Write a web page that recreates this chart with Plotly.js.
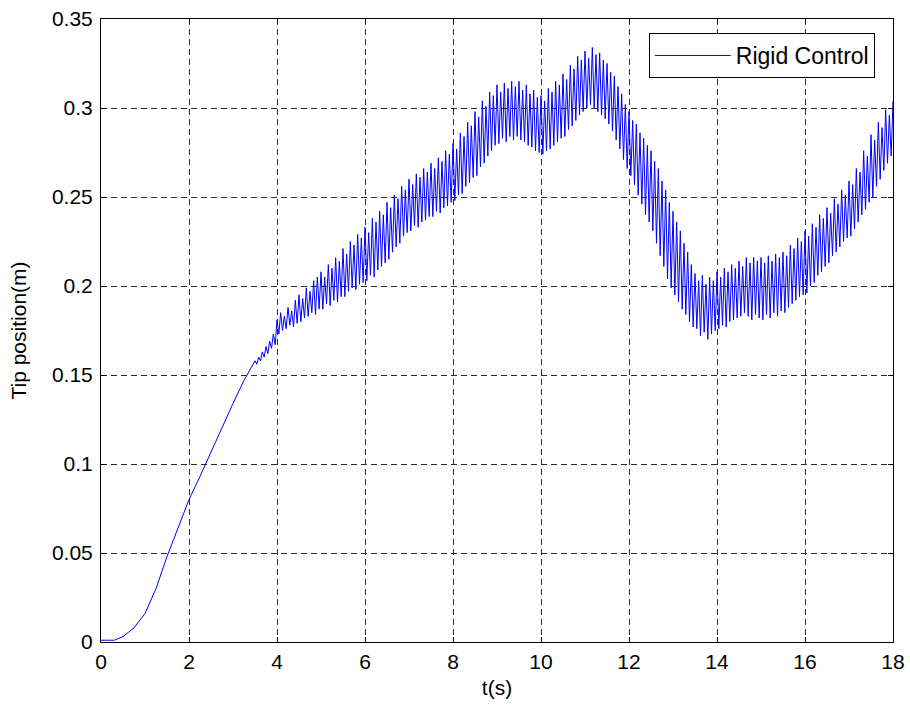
<!DOCTYPE html>
<html>
<head>
<meta charset="utf-8">
<script src="https://cdn.plot.ly/plotly-3.0.1.min.js"></script>
<style>html,body{margin:0;padding:0;background:#fff;}#chart{width:910px;height:711px;}</style>
</head>
<body>
<div id="chart"></div>
<script>
// Smooth start-up part (t in s, tip position in m)
const tSmooth = [0, 0.3, 0.5, 0.75, 1.0, 1.25, 1.5, 1.75, 2.0, 2.25, 2.5, 2.75, 3.0, 3.25];
const ySmooth = [0.001, 0.001, 0.003, 0.008, 0.016, 0.030, 0.048, 0.064, 0.080, 0.093, 0.107, 0.121, 0.134, 0.147];

// Oscillating part, sampled every 1/24 s starting at 3.5 s (peak / trough alternating)
const oscStart = 3.5;
const oscStep = 1 / 24;
const yOsc = [
  0.158,0.156,0.160,0.158,0.163,0.160,0.166,0.162,0.169,0.165,0.173,0.167, // 3.5
  0.181,0.173,0.185,0.175,0.183,0.176,0.188,0.178,0.186,0.177,0.192,0.179, // 4.0
  0.195,0.180,0.193,0.182,0.199,0.183,0.197,0.185,0.203,0.184,0.205,0.187, // 4.5
  0.208,0.187,0.205,0.190,0.212,0.189,0.210,0.192,0.216,0.191,0.214,0.194, // 5.0
  0.221,0.194,0.218,0.197,0.225,0.199,0.223,0.198,0.229,0.201,0.227,0.202, // 5.5
  0.233,0.203,0.230,0.206,0.238,0.205,0.236,0.209,0.242,0.211,0.240,0.213, // 6.0
  0.247,0.215,0.244,0.219,0.251,0.222,0.249,0.224,0.256,0.228,0.254,0.230, // 6.5
  0.260,0.231,0.257,0.234,0.263,0.233,0.261,0.236,0.266,0.237,0.264,0.239, // 7.0
  0.269,0.239,0.266,0.242,0.272,0.241,0.270,0.244,0.276,0.245,0.274,0.247, // 7.5
  0.280,0.248,0.277,0.251,0.286,0.252,0.284,0.256,0.292,0.258,0.290,0.261, // 8.0
  0.298,0.262,0.295,0.267,0.304,0.269,0.301,0.273,0.309,0.276,0.307,0.279, // 8.5
  0.313,0.280,0.309,0.283,0.314,0.281,0.311,0.284,0.315,0.282,0.312,0.284, // 9.0
  0.315,0.282,0.310,0.281,0.313,0.279,0.308,0.278,0.310,0.276,0.306,0.275, // 9.5
  0.307,0.274,0.304,0.276,0.311,0.277,0.309,0.279,0.315,0.281,0.313,0.283, // 10.0
  0.319,0.284,0.316,0.288,0.324,0.290,0.322,0.293,0.329,0.296,0.327,0.298, // 10.5
  0.332,0.300,0.328,0.302,0.334,0.300,0.330,0.298,0.331,0.296,0.327,0.294, // 11.0
  0.325,0.291,0.320,0.287,0.318,0.282,0.312,0.277,0.308,0.271,0.302,0.266, // 11.5
  0.298,0.262,0.293,0.257,0.291,0.251,0.286,0.246,0.283,0.240,0.279,0.236, // 12.0
  0.276,0.231,0.270,0.224,0.266,0.217,0.259,0.211,0.254,0.204,0.247,0.199, // 12.5
  0.242,0.195,0.236,0.191,0.231,0.187,0.224,0.184,0.219,0.180,0.212,0.177, // 13.0
  0.207,0.176,0.203,0.172,0.206,0.174,0.201,0.170,0.205,0.173,0.203,0.175, // 13.5
  0.208,0.176,0.205,0.178,0.210,0.177,0.208,0.180,0.212,0.181,0.210,0.182, // 14.0
  0.214,0.183,0.211,0.185,0.216,0.183,0.213,0.181,0.216,0.184,0.214,0.182, // 14.5
  0.216,0.181,0.213,0.184,0.217,0.182,0.214,0.185,0.218,0.183,0.216,0.186, // 15.0
  0.219,0.185,0.217,0.188,0.223,0.190,0.221,0.192,0.227,0.194,0.225,0.195, // 15.5
  0.231,0.196,0.228,0.200,0.235,0.202,0.233,0.206,0.240,0.208,0.238,0.211, // 16.0
  0.244,0.213,0.241,0.217,0.249,0.219,0.246,0.222,0.254,0.225,0.251,0.227, // 16.5
  0.259,0.228,0.257,0.232,0.266,0.236,0.264,0.240,0.276,0.243,0.273,0.247, // 17.0
  0.285,0.250,0.282,0.256,0.292,0.260,0.289,0.265,0.299,0.269,0.296,0.273, // 17.5
  0.304                                                                    // 18.0
];

const seriesName = 'Rigid Control';
const xTicks = [0, 2, 4, 6, 8, 10, 12, 14, 16, 18];
const yTicks = [0, 0.05, 0.1, 0.15, 0.2, 0.25, 0.3, 0.35];
const yTickText = ['0', '0.05', '0.1', '0.15', '0.2', '0.25', '0.3', '0.35'];
const xTitle = 't(s)';
const yTitle = 'Tip position(m)';

const tAll = tSmooth.slice();
const yAll = ySmooth.slice();
yOsc.forEach((v, i) => { tAll.push(oscStart + i * oscStep); yAll.push(v); });

const FONT = 'Liberation Sans, Arial, sans-serif';
const axisCommon = {
  showline: true, linecolor: '#000', linewidth: 1, mirror: 'ticks',
  ticks: 'inside', ticklen: 5, tickcolor: '#000', tickwidth: 1,
  showgrid: true, gridcolor: '#2a2a2a', gridwidth: 1, griddash: '6px,4px',
  zeroline: false, tickfont: {family: FONT, size: 21, color: '#000'}
};

Plotly.newPlot('chart', [{
  x: tAll, y: yAll, type: 'scatter', mode: 'lines', name: seriesName,
  line: {color: '#0000ff', width: 1}
}], {
  width: 910, height: 711,
  margin: {l: 101, r: 17, t: 19, b: 69},
  paper_bgcolor: '#fff', plot_bgcolor: '#fff',
  font: {family: FONT, size: 21, color: '#000'},
  xaxis: Object.assign({}, axisCommon, {
    range: [0, 18], tickvals: xTicks, ticktext: xTicks.map(String), ticklabelstandoff: 1,
    title: {text: xTitle, font: {family: FONT, size: 21}, standoff: 8}
  }),
  yaxis: Object.assign({}, axisCommon, {
    range: [0, 0.35], tickvals: yTicks, ticktext: yTickText, ticklabelstandoff: 3,
    title: {text: yTitle, font: {family: FONT, size: 21}, standoff: 19}
  }),
  showlegend: true,
  legend: {
    x: 0.977, y: 0.9775, xanchor: 'right', yanchor: 'top',
    bgcolor: '#fff', bordercolor: '#000', borderwidth: 1,
    font: {family: FONT, size: 23, color: '#000'}, itemwidth: 76
  }
}, {displayModeBar: false, staticPlot: true});
</script>
</body>
</html>
